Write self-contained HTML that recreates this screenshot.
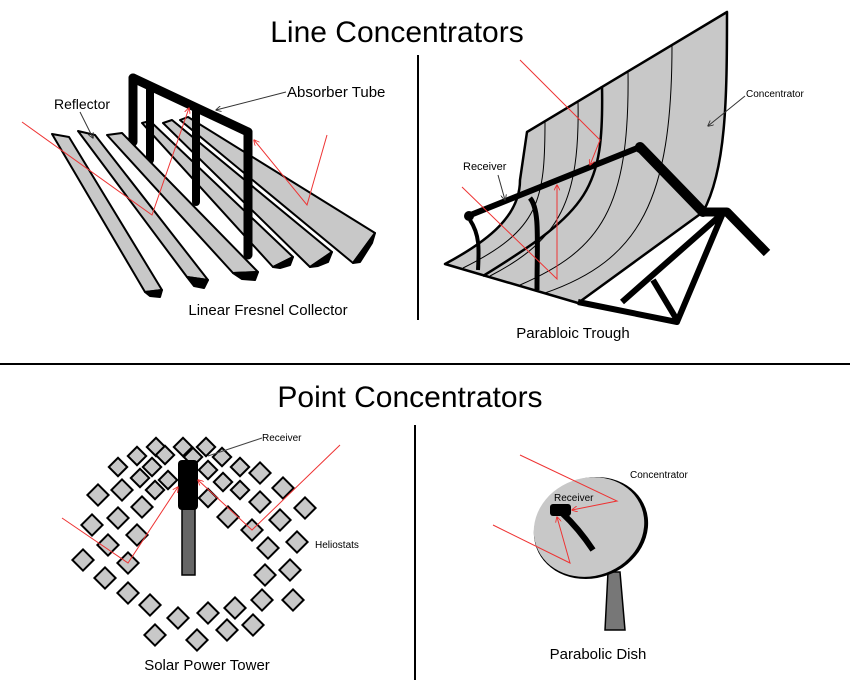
<!DOCTYPE html>
<html><head><meta charset="utf-8"><style>
html,body{margin:0;padding:0;background:#fff;}
svg{display:block;}
text{font-family:"Liberation Sans",Arial,sans-serif;fill:#000;}
</style></head><body>
<svg width="850" height="688" viewBox="0 0 850 688" xmlns="http://www.w3.org/2000/svg">
<defs>
<marker id="ah" viewBox="0 0 10 10" refX="9" refY="5" markerWidth="6" markerHeight="6" orient="auto"><path d="M0,0 L10,5 L0,10" fill="none" stroke="#e33" stroke-width="1.5"/></marker>
<marker id="ak" viewBox="0 0 10 10" refX="9" refY="5" markerWidth="6" markerHeight="6" orient="auto"><path d="M0,0 L10,5 L0,10" fill="none" stroke="#333" stroke-width="1.5"/></marker>
<rect id="d" x="-7.5" y="-7.5" width="15" height="15" transform="rotate(45)" fill="#c8c8c8" stroke="#000" stroke-width="2"/>
<rect id="s" x="-6.5" y="-6.5" width="13" height="13" transform="rotate(45)" fill="#c8c8c8" stroke="#000" stroke-width="2"/>
</defs>
<rect width="850" height="688" fill="#fff"/>
<text x="397" y="42" font-size="30" text-anchor="middle">Line Concentrators</text>
<text x="410" y="407" font-size="30" text-anchor="middle">Point Concentrators</text>
<line x1="418" y1="55" x2="418" y2="320" stroke="#000" stroke-width="2"/>
<line x1="0" y1="364" x2="850" y2="364" stroke="#000" stroke-width="2"/>
<line x1="415" y1="425" x2="415" y2="680" stroke="#000" stroke-width="2"/>

<!-- Fresnel -->
<g stroke="#000" stroke-width="2" stroke-linejoin="round">
<polygon points="180,120 188,117 375,233 353,263" fill="#c8c8c8"/>
<polygon points="353,263 375,233 372,243 360,262" fill="#000"/>
<polygon points="163,123 172,120 332,252 310,267" fill="#c8c8c8"/>
<polygon points="310,267 332,252 328,262 318,266" fill="#000"/>
<polygon points="142,123 150,121 293,257 273,267" fill="#c8c8c8"/>
<polygon points="273,267 293,257 290,265 280,268" fill="#000"/>
</g>
<g stroke="#000" stroke-linecap="round" fill="none">
<path d="M133,78 L133,142" stroke-width="9"/>
<path d="M150,88 L150,160" stroke-width="8"/>
<path d="M133,78 L248,132" stroke-width="9"/>
<path d="M196,110 L196,202" stroke-width="8"/>
<path d="M248,132 L248,255" stroke-width="9"/>
</g>
<g stroke="#000" stroke-width="2" stroke-linejoin="round">
<polygon points="107,135 122,133 258,272 233,273" fill="#c8c8c8"/>
<polygon points="233,273 258,272 255,280 242,279" fill="#000"/>
<polygon points="78,131 95,135 208,280 187,277" fill="#c8c8c8"/>
<polygon points="187,277 208,280 204,288 194,286" fill="#000"/>
<polygon points="52,134 69,137 162,290 145,292" fill="#c8c8c8"/>
<polygon points="145,292 162,290 160,297 150,296" fill="#000"/>
</g>
<polyline points="22,122 152,215 189,108" fill="none" stroke="#e33" stroke-width="1" marker-end="url(#ah)"/>
<polyline points="327,135 307,205 254,140" fill="none" stroke="#e33" stroke-width="1" marker-end="url(#ah)"/>
<text x="54" y="109" font-size="14">Reflector</text>
<line x1="80" y1="112" x2="93" y2="138" stroke="#333" stroke-width="1" marker-end="url(#ak)"/>
<text x="287" y="97" font-size="15">Absorber Tube</text>
<line x1="286" y1="92" x2="216" y2="110" stroke="#333" stroke-width="1" marker-end="url(#ak)"/>
<text x="268" y="315" font-size="15" text-anchor="middle">Linear Fresnel Collector</text>

<!-- Trough -->
<path d="M527,132 L727,12 C727,100 726,170 703,212 L578,303 L445,264 C490,240 520,215 520,180 Z" fill="#c8c8c8" stroke="#000" stroke-width="2.5" stroke-linejoin="round"/>
<g fill="none" stroke="#000" stroke-width="1">
<path d="M545,121 C545,200 540,230 463,268"/>
<path d="M578,101 C580,200 560,240 490,276"/>
<path d="M628,71 C630,210 600,250 520,285"/>
<path d="M672,45 C672,200 640,260 545,293"/>
</g>
<path d="M602,86 C604,190 590,210 483,276" fill="none" stroke="#000" stroke-width="2.5"/>
<g stroke="#000" stroke-width="6" fill="none" stroke-linejoin="round">
<path d="M578,302 L677,322 L723,213 L622,302"/>
<path d="M653,280 L677,320"/>
</g>
<path d="M703,212 L727,212 L767,253" fill="none" stroke="#000" stroke-width="9" stroke-linejoin="round"/>
<path d="M640,147 L703,212" stroke="#000" stroke-width="10" stroke-linecap="round"/>
<path d="M468,216 L640,147" stroke="#000" stroke-width="6" stroke-linecap="round"/>
<circle cx="469" cy="216" r="5" fill="#000"/>
<circle cx="640" cy="148" r="5" fill="#000"/>
<path d="M470,220 C480,235 479,250 478,270" fill="none" stroke="#000" stroke-width="4"/>
<path d="M530,198 C540,210 537,240 537,290" fill="none" stroke="#000" stroke-width="5"/>
<polyline points="520,60 600,140 590,165" fill="none" stroke="#e33" stroke-width="1" marker-end="url(#ah)"/>
<polyline points="462,187 557,279 557,185" fill="none" stroke="#e33" stroke-width="1" marker-end="url(#ah)"/>
<text x="463" y="170" font-size="11">Receiver</text>
<line x1="498" y1="175" x2="505" y2="200" stroke="#333" stroke-width="1" marker-end="url(#ak)"/>
<text x="746" y="97" font-size="10">Concentrator</text>
<line x1="745" y1="96" x2="708" y2="126" stroke="#333" stroke-width="1" marker-end="url(#ak)"/>
<text x="573" y="338" font-size="15" text-anchor="middle">Parabloic Trough</text>

<!-- Tower -->
<use href="#s" x="156" y="447"/><use href="#s" x="183" y="447"/><use href="#s" x="206" y="447"/>
<use href="#s" x="137" y="456"/><use href="#s" x="165" y="455"/><use href="#s" x="193" y="457"/>
<use href="#s" x="222" y="457"/><use href="#s" x="118" y="467"/><use href="#s" x="152" y="467"/>
<use href="#s" x="208" y="470"/><use href="#s" x="240" y="467"/><use href="#s" x="140" y="478"/>
<use href="#s" x="168" y="480"/><use href="#s" x="223" y="482"/><use href="#d" x="260" y="473"/>
<use href="#d" x="98" y="495"/><use href="#d" x="122" y="490"/><use href="#s" x="155" y="490"/>
<use href="#s" x="240" y="490"/><use href="#d" x="283" y="488"/><use href="#s" x="208" y="498"/>
<use href="#d" x="260" y="502"/><use href="#d" x="142" y="507"/><use href="#d" x="305" y="508"/>
<use href="#d" x="92" y="525"/><use href="#d" x="118" y="518"/><use href="#d" x="228" y="517"/>
<use href="#d" x="280" y="520"/><use href="#d" x="137" y="535"/><use href="#d" x="252" y="530"/>
<use href="#d" x="297" y="542"/><use href="#d" x="108" y="545"/><use href="#d" x="268" y="548"/>
<use href="#d" x="83" y="560"/><use href="#d" x="128" y="563"/><use href="#d" x="290" y="570"/>
<use href="#d" x="105" y="578"/><use href="#d" x="265" y="575"/><use href="#d" x="128" y="593"/>
<use href="#d" x="262" y="600"/><use href="#d" x="293" y="600"/><use href="#d" x="150" y="605"/>
<use href="#d" x="178" y="618"/><use href="#d" x="208" y="613"/><use href="#d" x="235" y="608"/>
<use href="#d" x="155" y="635"/><use href="#d" x="197" y="640"/><use href="#d" x="227" y="630"/>
<use href="#d" x="253" y="625"/>
<rect x="182" y="508" width="13" height="67" fill="#666" stroke="#000" stroke-width="1.5"/>
<rect x="178" y="460" width="20" height="50" rx="4" fill="#000"/>
<polyline points="62,518 128,563 178,487" fill="none" stroke="#e33" stroke-width="1" marker-end="url(#ah)"/>
<polyline points="340,445 252,530 198,480" fill="none" stroke="#e33" stroke-width="1" marker-end="url(#ah)"/>
<text x="262" y="441" font-size="10">Receiver</text>
<line x1="262" y1="438" x2="208" y2="456" stroke="#444" stroke-width="1"/>
<text x="315" y="548" font-size="10">Heliostats</text>
<text x="207" y="670" font-size="15" text-anchor="middle">Solar Power Tower</text>

<!-- Dish -->
<polygon points="608,572 620,572 625,630 605,630" fill="#777" stroke="#000" stroke-width="1.5"/>
<ellipse cx="591" cy="528" rx="58" ry="50" transform="rotate(-20 591 528)" fill="#000"/>
<ellipse cx="589" cy="527" rx="56" ry="49" transform="rotate(-20 589 527)" fill="#c8c8c8"/>
<path d="M562,513 C575,525 585,538 593,550" fill="none" stroke="#000" stroke-width="6"/>
<rect x="550" y="504" width="21" height="12" rx="3" fill="#000"/>
<polyline points="520,455 617,501 572,510" fill="none" stroke="#e33" stroke-width="1" marker-end="url(#ah)"/>
<polyline points="493,525 570,563 557,517" fill="none" stroke="#e33" stroke-width="1" marker-end="url(#ah)"/>
<text x="554" y="501" font-size="10">Receiver</text>
<text x="630" y="478" font-size="10">Concentrator</text>
<text x="598" y="659" font-size="15" text-anchor="middle">Parabolic Dish</text>
</svg>
</body></html>
